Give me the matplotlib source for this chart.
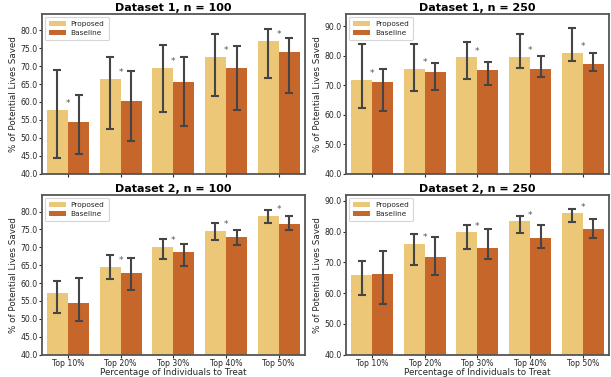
import numpy as np
import matplotlib
matplotlib.use('Agg')
import matplotlib.pyplot as plt

# categories
groups = ['Top 10%', 'Top 20%', 'Top 30%', 'Top 40%', 'Top 50%']
titles = ['Dataset 1, n = 100', 'Dataset 1, n = 250',
          'Dataset 2, n = 100', 'Dataset 2, n = 250']

# Dataset 1, n = 100
d1_100_prop = [57.8, 66.5, 69.6, 72.6, 77.1]
d1_100_prop_lo = [44.4, 52.4, 57.1, 61.7, 66.6]
d1_100_prop_hi = [68.8, 72.4, 75.9, 78.9, 80.4]
d1_100_base = [54.5, 60.3, 65.6, 69.6, 74.0]
d1_100_base_lo = [45.6, 49.2, 53.3, 57.8, 62.6]
d1_100_base_hi = [61.8, 68.5, 72.5, 75.5, 77.7]
d1_100_sig = [1, 1, 1, 1, 1]

# Dataset 1, n = 250
d1_250_prop = [71.9, 75.6, 79.4, 79.7, 81.0]
d1_250_prop_lo = [62.1, 68.1, 72.2, 75.7, 78.1]
d1_250_prop_hi = [84.1, 84.1, 84.6, 87.3, 89.5]
d1_250_base = [71.2, 74.6, 75.3, 75.6, 77.3]
d1_250_base_lo = [61.3, 68.5, 70.2, 72.7, 74.9]
d1_250_base_hi = [75.6, 77.4, 78.0, 79.9, 80.8]
d1_250_sig = [1, 1, 1, 1, 1]

# Dataset 2, n = 100
d2_100_prop = [57.3, 64.5, 70.1, 74.6, 78.8]
d2_100_prop_lo = [51.6, 61.1, 66.6, 72.0, 76.7]
d2_100_prop_hi = [60.6, 67.9, 72.4, 76.8, 80.5]
d2_100_base = [54.5, 62.8, 68.7, 72.9, 76.5]
d2_100_base_lo = [49.5, 58.1, 64.7, 70.7, 74.8]
d2_100_base_hi = [61.4, 66.9, 71.0, 74.7, 78.7]
d2_100_sig = [0, 1, 1, 1, 1]

# Dataset 2, n = 250
d2_250_prop = [65.9, 76.0, 79.8, 83.4, 86.0]
d2_250_prop_lo = [59.4, 69.0, 74.3, 79.5, 83.0]
d2_250_prop_hi = [70.6, 79.3, 82.3, 85.1, 87.4]
d2_250_base = [66.2, 71.8, 74.7, 78.0, 80.9]
d2_250_base_lo = [56.5, 65.9, 71.1, 74.7, 78.0]
d2_250_base_hi = [73.8, 78.3, 80.9, 82.3, 84.0]
d2_250_sig = [0, 1, 1, 1, 1]

panels = [
    (d1_100_prop, d1_100_prop_lo, d1_100_prop_hi, d1_100_base, d1_100_base_lo, d1_100_base_hi, d1_100_sig),
    (d1_250_prop, d1_250_prop_lo, d1_250_prop_hi, d1_250_base, d1_250_base_lo, d1_250_base_hi, d1_250_sig),
    (d2_100_prop, d2_100_prop_lo, d2_100_prop_hi, d2_100_base, d2_100_base_lo, d2_100_base_hi, d2_100_sig),
    (d2_250_prop, d2_250_prop_lo, d2_250_prop_hi, d2_250_base, d2_250_base_lo, d2_250_base_hi, d2_250_sig),
]
ylims = [(40, 84.5), (40, 94.1), (40, 84.6), (40, 91.9)]
ystep = [5, 10, 5, 10]

c_prop = '#EBC777'
c_base = '#C6662A'
ecol = '#454545'
tcol = '#262626'

fig = plt.figure(figsize=(6.11, 3.77), dpi=100)
lefts = [0.0682, 0.5658]
bottoms = [0.5393, 0.0592]
w, h = 0.431, 0.4234

x = np.arange(len(groups))
bw = 0.4
for k, (pv, plo, phi, bv, blo, bhi, sig) in enumerate(panels):
    ax = fig.add_axes([lefts[k % 2], bottoms[k // 2], w, h])
    pv, plo, phi = np.array(pv), np.array(plo), np.array(phi)
    bv, blo, bhi = np.array(bv), np.array(blo), np.array(bhi)
    ax.bar(x - bw / 2, pv, bw, color=c_prop, label='Proposed', zorder=2)
    ax.bar(x + bw / 2, bv, bw, color=c_base, label='Baseline', zorder=2)
    ax.errorbar(x - bw / 2, pv, yerr=[pv - plo, phi - pv], fmt='none',
                ecolor=ecol, elinewidth=1.5, capsize=2.6, capthick=1.5, zorder=3)
    ax.errorbar(x + bw / 2, bv, yerr=[bv - blo, bhi - bv], fmt='none',
                ecolor=ecol, elinewidth=1.5, capsize=2.6, capthick=1.5, zorder=3)
    for i in range(len(groups)):
        if sig[i]:
            ax.annotate('*', (x[i], pv[i]), textcoords='offset points',
                        xytext=(0, 1.2), ha='center', va='bottom',
                        fontsize=6.5, color='#555555')
    ax.set_xlim(-0.5, len(groups) - 0.5)
    ax.set_ylim(*ylims[k])
    yt = np.arange(40, ylims[k][1], ystep[k])
    ax.set_yticks(yt)
    ax.set_yticklabels(['%.1f' % v for v in yt])
    ax.set_xticks(x)
    if k // 2 == 1:
        ax.set_xticklabels(groups)
        ax.set_xlabel('Percentage of Individuals to Treat', fontsize=6.3,
                      color=tcol, labelpad=0)
    else:
        ax.set_xticklabels([])
    ax.set_ylabel('% of Potential Lives Saved', fontsize=6.3, color=tcol, labelpad=1.5)
    ax.set_title(titles[k], fontsize=8, fontweight='bold', pad=2.5)
    ax.tick_params(labelsize=5.6, length=2, width=0.8, pad=1, colors=tcol)
    for s in ax.spines.values():
        s.set_color('#555555')
        s.set_linewidth(1.3)
    leg = ax.legend(loc='upper left', fontsize=5.3, frameon=True, fancybox=True,
                    borderpad=0.55, handlelength=2.3, handletextpad=0.7,
                    labelspacing=0.4, borderaxespad=0.4)
    leg.get_frame().set_edgecolor('#cccccc')
    leg.get_frame().set_linewidth(0.8)
    for t in leg.get_texts():
        t.set_color(tcol)

fig.savefig('out.png', dpi=100)
